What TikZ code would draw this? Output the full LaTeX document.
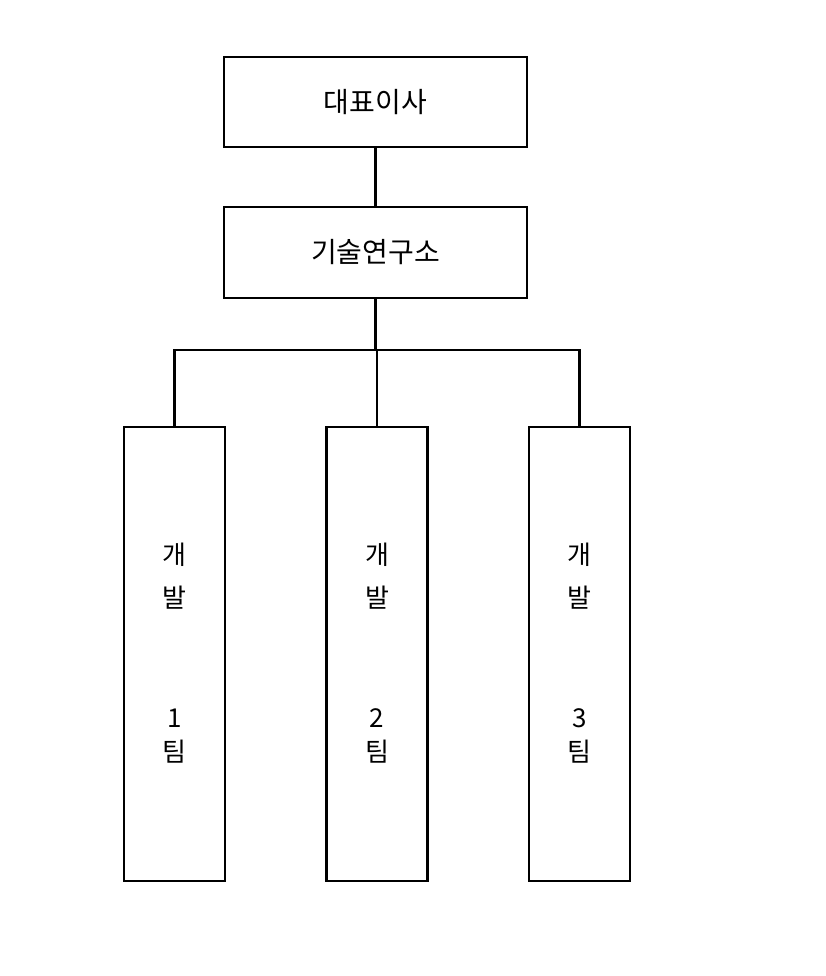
\documentclass[tikz,border=0pt]{standalone}
\usepackage{fontspec}
\setmainfont{Noto Sans CJK KR}
\begin{document}
\begin{tikzpicture}[x=1pt,y=-1pt,line width=2.5pt,
  box/.style={draw,rectangle,inner sep=0pt,font=\fontsize{28}{30}\selectfont},
  txt/.style={font=\fontsize{26}{28}\selectfont,inner sep=0pt}]
\useasboundingbox (0,0) rectangle (826,976);
\node[box,minimum width=303pt,minimum height=90pt] (ceo) at (375.5,102) {대표이사};
\node[box,minimum width=303pt,minimum height=91pt] (lab) at (375.5,252.5) {기술연구소};
\foreach \i/\x in {1/174.5,2/377,3/579.5}{
  \node[box,minimum width=101pt,minimum height=454pt] (t\i) at (\x,654) {};
  \node[txt] at (\x,555) {개};
  \node[txt] at (\x,598) {발};
  \node[txt] at (\x,718) {\i};
  \node[txt] at (\x,752) {팀};
}
\coordinate (j) at (377,350);
\draw (ceo.south) -- (lab.north);
\draw (lab.south) -- (lab.south |- j);
\draw (t1.north) -- (t1.north |- j) -- (t3.north |- j) -- (t3.north);
\draw (j) -- (t2.north);
\end{tikzpicture}
\end{document}
